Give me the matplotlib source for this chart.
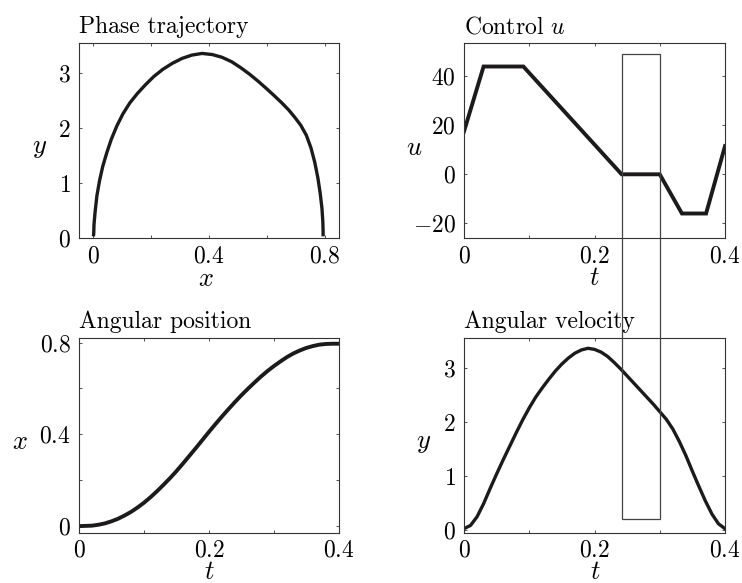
import matplotlib
matplotlib.use("Agg")
import matplotlib.pyplot as plt
from matplotlib.patches import Rectangle
from matplotlib.ticker import FixedLocator, FixedFormatter

plt.rcParams['font.family'] = 'serif'
plt.rcParams['font.serif'] = ['cmr10']
plt.rcParams['mathtext.fontset'] = 'cm'
plt.rcParams['axes.formatter.use_mathtext'] = True

# ---------------- data ----------------
t = [0.00, 0.01, 0.02, 0.03, 0.04, 0.05, 0.06, 0.07, 0.08, 0.09,
     0.10, 0.11, 0.12, 0.13, 0.14, 0.15, 0.16, 0.17, 0.18, 0.19,
     0.20, 0.21, 0.22, 0.23, 0.24, 0.25, 0.26, 0.27, 0.28, 0.29,
     0.30, 0.31, 0.32, 0.33, 0.34, 0.35, 0.36, 0.37, 0.38, 0.39, 0.40]
# angular velocity y(t)
y = [0.03, 0.09, 0.25, 0.49, 0.77, 1.04, 1.30, 1.55, 1.80, 2.04,
     2.26, 2.46, 2.63, 2.79, 2.94, 3.07, 3.18, 3.27, 3.33, 3.36,
     3.34, 3.29, 3.21, 3.10, 2.98, 2.85, 2.72, 2.59, 2.46, 2.33,
     2.19, 2.05, 1.87, 1.64, 1.38, 1.09, 0.81, 0.54, 0.30, 0.12, 0.03]
# angular position x(t)
x = [0.000, 0.001, 0.002, 0.006, 0.012, 0.021, 0.032, 0.046, 0.062, 0.081,
     0.102, 0.126, 0.152, 0.180, 0.209, 0.240, 0.273, 0.307, 0.341, 0.376,
     0.411, 0.445, 0.478, 0.510, 0.541, 0.571, 0.599, 0.626, 0.652, 0.676,
     0.698, 0.718, 0.737, 0.753, 0.766, 0.777, 0.785, 0.791, 0.794, 0.795, 0.795]
# control u(t), piecewise linear
t_u = [0.0, 0.030, 0.091, 0.2416, 0.300, 0.334, 0.371, 0.400]
u = [17.5, 44.0, 44.0, 0.0, 0.0, -16.0, -16.0, 11.5]

# highlighted interval (box spanning control and velocity panels)
box_t = [0.2416, 0.300]
box_u_top = 49.3
box_y_bottom = 0.2

# ---------------- figure ----------------
W, H = 742, 583
fig = plt.figure(figsize=(W / 100, H / 100), dpi=100)

def px_axes(l, r, top, bot):
    return fig.add_axes([l / W, 1 - bot / H, (r - l) / W, (bot - top) / H])

ax_ph = px_axes(79, 339, 43, 238)
ax_u = px_axes(464, 725, 43, 238)
ax_x = px_axes(79, 339, 338, 533)
ax_v = px_axes(464, 725, 338, 533)

FS = 17
LC = '#1c1a1a'
LW = 2.4
SPC = '#333333'

def style(ax, xmaj, xlab, xmin, ymaj, ylab, ymin, xpad=5.5):
    ax.xaxis.set_major_locator(FixedLocator(xmaj))
    ax.xaxis.set_major_formatter(FixedFormatter(xlab))
    ax.xaxis.set_minor_locator(FixedLocator(xmin))
    ax.yaxis.set_major_locator(FixedLocator(ymaj))
    ax.yaxis.set_major_formatter(FixedFormatter(ylab))
    ax.yaxis.set_minor_locator(FixedLocator(ymin))
    ax.tick_params(which='both', direction='in', top=True, right=True,
                   length=2.5, width=0.6, color=SPC, labelsize=FS)
    ax.tick_params(axis='x', which='both', pad=xpad)
    ax.tick_params(axis='y', which='both', pad=6)
    for s in ax.spines.values():
        s.set_linewidth(0.8)
        s.set_color(SPC)

# Phase trajectory
ax_ph.plot(x, y, color=LC, lw=LW, solid_capstyle='butt')
ax_ph.set_xlim(-0.05, 0.85)
ax_ph.set_ylim(0, 3.55)
style(ax_ph, [0, 0.4, 0.8], ['$0$', '$0.4$', '$0.8$'], [0.2, 0.6],
      [0, 1, 2, 3], ['$0$', '$1$', '$2$', '$3$'], [])
ax_ph.set_title('Phase trajectory', loc='left', fontsize=FS, pad=7)

# Control u
ax_u.plot(t_u, u, color=LC, lw=LW + 0.4, solid_joinstyle='miter')
ax_u.set_xlim(0, 0.4)
ax_u.set_ylim(-26, 53.6)
style(ax_u, [0, 0.2, 0.4], ['$0$', '$0.2$', '$0.4$'], [0.1, 0.3],
      [-20, 0, 20, 40], ['$-20$', '$0$', '$20$', '$40$'], [])
ax_u.set_title('Control $u$', loc='left', fontsize=FS, pad=7)

# Angular position
ax_x.plot(t, x, color=LC, lw=LW + 0.4)
ax_x.set_xlim(0, 0.4)
ax_x.set_ylim(-0.03, 0.82)
style(ax_x, [0, 0.2, 0.4], ['$0$', '$0.2$', '$0.4$'], [0.1, 0.3],
      [0, 0.4, 0.8], ['$0$', '$0.4$', '$0.8$'], [0.2, 0.6], xpad=4.5)
ax_x.set_title('Angular position', loc='left', fontsize=FS, pad=7)

# Angular velocity
ax_v.plot(t, y, color=LC, lw=LW)
ax_v.set_xlim(0, 0.4)
ax_v.set_ylim(-0.05, 3.55)
style(ax_v, [0, 0.2, 0.4], ['$0$', '$0.2$', '$0.4$'], [0.1, 0.3],
      [0, 1, 2, 3], ['$0$', '$1$', '$2$', '$3$'], [], xpad=4.5)
ax_v.set_title('Angular velocity', loc='left', fontsize=FS, pad=7)

# axis labels
def labels(ax, xl, xpos, yl, ypos):
    ax.set_xlabel(xl, fontsize=FS + 2, va='center')
    ax.xaxis.set_label_coords(*xpos)
    ax.set_ylabel(yl, fontsize=FS + 2, rotation=0, ha='center', va='center')
    ax.yaxis.set_label_coords(*ypos)

labels(ax_ph, '$x$', (0.488, -0.21), '$y$', (-0.15, 0.46))
labels(ax_u, '$t$', (0.498, -0.207), '$u$', (-0.19, 0.46))
labels(ax_x, '$t$', (0.5, -0.203), '$x$', (-0.227, 0.468))
labels(ax_v, '$t$', (0.505, -0.203), '$y$', (-0.157, 0.46))

# box spanning both right panels
fig.canvas.draw()
inv = fig.transFigure.inverted()
p_top = inv.transform(ax_u.transData.transform((box_t[0], box_u_top)))
p_bot = inv.transform(ax_v.transData.transform((box_t[1], box_y_bottom)))
rect = Rectangle((p_top[0], p_bot[1]), p_bot[0] - p_top[0], p_top[1] - p_bot[1],
                 transform=fig.transFigure, fill=False, edgecolor='#444444',
                 lw=0.9, zorder=10)
fig.patches.append(rect)

fig.savefig('out.png', dpi=100)
